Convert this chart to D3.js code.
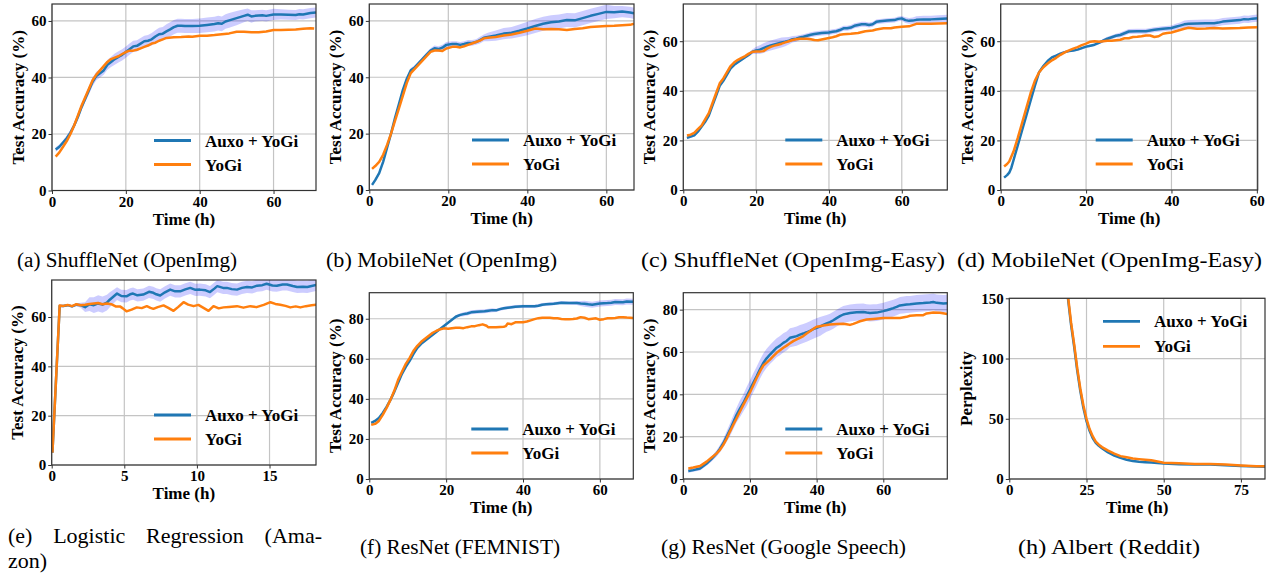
<!DOCTYPE html>
<html>
<head>
<meta charset="utf-8">
<script src="https://cdn.jsdelivr.net/npm/d3@7"></script>
<style>
body { margin: 0; background: #fff; }
svg text { font-family: "Liberation Serif", "Times New Roman", serif; }
</style>
</head>
<body>
<svg id="fig" width="1275" height="577"></svg>
<script>

// ---- data: [time (h), value, band half-width] ----

const seriesNames = ['Auxo + YoGi', 'YoGi']

const shuffleImgAuxo = [[1,14.5,0.8],[2,15.5,0.8],[3,17,0.8],[4,18.5,1],[5,20.5,1],[6,23,1],[7,26,1.2],[8,29.5,1.2],[9,32.5,1.2],[10,35.5,1.5],[11,38.5,1.5],[12,40.5,1.5],[13,41.5,1.5],[14,42.5,1.5],[15,44.5,1.8],[16,45.5,1.8],[17,46.5,2],[18,47.3,2],[19,48,2],[20,49,2],[21,50,2],[22,51,2],[23,51.2,2],[24,52,2],[25,52.8,2],[26,53,2],[27,53.5,2.2],[28,54.5,2.2],[29,55.3,2.3],[30,55.5,2.4],[31,56.3,2.5],[32,57,2.5],[33,57.8,2.5],[34,58.3,2.5],[35,58.3,2.5],[36,58.2,2.5],[38,58.2,2.5],[40,58.3,2.6],[42,58.6,2.6],[44,58.9,2.6],[45,59.2,2.6],[46,59,2.6],[47,59.8,2.6],[48,60.2,2.6],[50,61,2.5],[52,61.8,2.3],[53,62.2,2.2],[54,61.6,2.2],[55,61.8,2],[57,62,2],[58,61.8,2],[60,62.3,2],[62,62.3,1.8],[64,62.2,1.8],[66,62.1,1.8],[67,62.4,1.8],[68,62.3,1.8],[70,62.8,1.8],[71.5,63,1.8]]
const shuffleImgYogi = [[1,12],[2,13.5],[3,15.5],[4,17.5],[5,20],[6,23],[7,26.5],[8,30],[9,33],[10,36],[11,39],[12,41],[13,42.5],[14,44],[15,45.5],[16,46.5],[17,47],[18,47.5],[19,48.3],[20,49],[21,49.5],[22,49.5],[23,49.8],[24,50.3],[25,50.8],[26,51.3],[27,52],[28,52.3],[29,53],[30,53.5],[31,54],[33,54.2],[35,54.3],[37,54.5],[38,54.4],[40,54.8],[42,54.8],[44,55],[46,55.3],[48,55.6],[50,56.2],[52,56.2],[54,56],[56,56],[58,56.3],[60,56.8],[62,56.8],[64,56.9],[66,57],[68,57.2],[70,57.4],[71,57.3]]

const mobileImgAuxo = [[0.7,1.8,0.5],[1.5,3.5,0.5],[2.5,6,0.5],[3.5,10,0.7],[4.5,15,0.8],[5.5,20,0.8],[6.5,25.5,0.8],[7.5,30.5,0.8],[8.5,35.5,0.8],[9.5,39.5,0.8],[10.5,42.5,0.8],[11.5,43.5,0.8],[12.5,45,0.8],[13.5,46.5,0.8],[14.5,48,0.8],[15.5,49.5,0.8],[16.5,50.3,1],[17.5,50,1],[18.5,50.5,1],[19.5,51.5,1],[21,51.8,1],[22,51.8,1],[23,51.5,1],[24,51.8,1],[25,52.2,1],[26,52.2,1],[27,52.5,1],[28,53.2,1.2],[29,54,1.2],[30,54.3,1.5],[32,54.8,1.8],[34,55.5,2],[36,55.8,2],[38,56.5,2.2],[40,57.3,2.4],[42,58.2,2.5],[44,59,2.5],[46,59.5,2.5],[48,59.8,2.5],[50,60.3,2.5],[52,60.2,2.5],[54,61,2.5],[56,61.8,2.5],[58,62.5,2.5],[60,63.2,2.5],[62,63.1,2.2],[64,63.3,2],[66,63,2],[67,62.7,2]]
const mobileImgYogi = [[0.7,7.5],[1.5,8.5],[2.5,10],[3.5,12.5],[4.5,16],[5.5,20],[6.5,24.5],[7.5,29],[8.5,33.5],[9.5,38],[10.5,41.5],[11.5,43],[12.5,44.5],[13.5,46],[14.5,47.5],[15.5,49],[16.5,49.5],[17.5,49.5],[18.5,49.3],[19.5,50.2],[21,50.8],[22,50.8],[23,50.6],[24,51],[25,51.5],[26,52],[27,52.5],[28,53],[29,53.8],[30,54],[32,54.3],[34,54.8],[36,55.2],[38,55.8],[40,56.5],[42,57.3],[44,57],[46,57.1],[48,57],[50,56.8],[52,57.1],[54,57.4],[56,57.8],[58,58],[60,58.2],[62,58.3],[64,58.5],[66,58.6],[67,59]]

const shuffleEasyAuxo = [[1,21,0.5],[2,21.5,0.5],[3,22,0.5],[4,23.5,0.5],[5,25.5,0.5],[6,27.5,0.5],[7,30,0.5],[8,34,0.5],[9,38,0.5],[10,42,0.5],[11,44,0.5],[12,46.5,0.5],[13,49,0.5],[14,50.5,0.5],[15,51.5,0.5],[16,52.5,0.5],[17,53.5,0.5],[18,54.5,0.8],[19,55.8,1],[20,56.3,1.5],[21,56.6,1.8],[22,57.2,2],[23,57.8,2],[24,58.3,2],[25,58.7,2],[26,59.1,2],[27,59.5,2],[28,59.8,1.8],[29,60.2,1.5],[30,60.8,1.3],[31,61,1.2],[32,61.5,1],[33,61.8,1],[34,62.2,1],[35,62.6,1],[36,62.9,1],[37,63.1,1],[38,63.3,1],[40,63.5,1],[41,63.8,1],[42,64,1],[43,64.5,1],[44,65.2,1],[45,65.2,1],[46,65.5,1],[47,66.2,1],[48,66.5,1],[49,66.8,1],[50,66.8,1],[51,66.5,1],[52,66.8,1],[53,67.8,1],[54,68,1],[56,68.3,1],[58,68.5,1],[59,69,1],[60,69.2,1],[61,68.5,1.2],[62,68.2,1.2],[63,68.3,1.3],[64,68.6,1.5],[66,68.8,1.5],[68,68.8,1.5],[70,69,1.5],[72.5,69.2,1.5]]
const shuffleEasyYogi = [[1,22],[2,22.3],[3,23],[4,24.5],[5,26],[6,28.5],[7,31],[8,35],[9,39],[10,43],[11,45],[12,47.5],[13,50],[14,51.5],[15,52.5],[16,53.3],[17,54],[18,55],[19,55.7],[20,55.8],[21,55.8],[22,56],[23,57],[24,57.7],[25,58.2],[26,58.6],[27,59],[28,59.5],[29,60],[30,60.5],[31,60.8],[32,61],[33,61],[34,61],[35,60.8],[36,60.5],[37,60.4],[38,60.7],[39,61],[40,61.3],[41,61.6],[42,62],[43,62.6],[44,62.8],[46,63],[48,63.3],[50,64],[52,64.3],[53,64.7],[55,65.2],[57,65.2],[58,65.5],[60,65.8],[62,66],[63,66.5],[64,67],[66,67],[68,67],[70,67.1],[72.5,67.2]]

const mobileEasyAuxo = [[0.8,5,0.3],[1.5,6,0.3],[2,7,0.3],[2.5,9,0.5],[3,12,0.5],[4,18,0.5],[5,24,0.5],[6,30,0.5],[7,36,0.5],[8,42,0.5],[9,47.5,0.5],[10,50,0.5],[11,52,0.5],[12,53.5,0.5],[13,54.2,0.5],[14,55,0.5],[15,55.6,0.5],[16,56,0.5],[17,56.2,0.5],[18,56.6,0.5],[19,57.2,0.5],[20,57.8,0.5],[21,58.2,0.5],[22,58.6,0.5],[23,59.3,0.5],[24,60.2,0.8],[25,61,0.8],[26,61.6,0.8],[27,62.2,0.8],[28,62.5,1],[29,63.2,1],[30,63.9,1],[32,64,1],[34,64,1],[35,64.3,1],[36,64.6,1],[38,65,1],[40,65.3,1],[41,65.8,1.2],[42,66.3,1.2],[43,66.8,1.5],[44,67,1.5],[46,67.1,1.5],[48,67.2,1.5],[50,67.2,1.5],[51,67.5,1.5],[52,67.9,1.5],[54,68.2,1.5],[56,68.5,1.5],[57,68.9,1.5],[58,68.8,1.5],[59,69.1,1.5],[60.2,69.3,1.5]]
const mobileEasyYogi = [[0.8,9.5],[1.5,10.5],[2,11.5],[3,15.5],[4,21],[5,27],[6,33],[7,39],[8,44],[9,47.5],[10,49.5],[11,51],[12,52.3],[13,53.3],[14,54.5],[15,55.5],[16,56.3],[17,57],[18,57.6],[19,58.4],[20,59],[21,59.8],[22,60],[23,59.8],[24,60],[25,60.2],[26,60.2],[27,60.4],[28,60.6],[29,61.2],[30,61.2],[31,61.7],[32,61.8],[33,62],[34,62.3],[35,62.3],[36,61.7],[37,62],[38,63],[39,63.3],[40,63.5],[41,64],[42,64.5],[43,65],[44,65.4],[45,65.2],[46,65],[48,65.1],[50,65.3],[52,65.1],[54,65.2],[56,65.3],[58,65.5],[60.2,65.6]]

const amazonAuxo = [[0.05,5,0.3],[0.55,64.5,0.5],[0.8,64.5,0.5],[1.1,64.8,0.5],[1.4,64.3,0.5],[1.7,65,0.6],[2.0,64.8,1],[2.3,64,2],[2.6,65.2,2.8],[2.9,64.8,3.2],[3.2,65.5,3.3],[3.5,65,3.3],[3.8,65.8,3.2],[4.0,67,3],[4.2,68,2.8],[4.5,69.5,2.6],[4.8,68.5,2.5],[5.15,68.4,2.5],[5.4,69.2,2.5],[5.6,69.5,2.5],[5.9,68.8,2.5],[6.3,69.1,2.5],[6.7,70.2,2.5],[7.0,69.8,2.5],[7.2,69.2,2.5],[7.47,68.7,2.5],[7.8,70,2.5],[8.16,71.1,2.5],[8.5,70.4,2.5],[8.85,70.4,2.5],[9.2,71.2,2.5],[9.54,71.8,2.5],[9.9,71,2.5],[10.2,71.1,2.5],[10.6,70.8,2.5],[10.9,70.1,2.5],[11.2,71.5,2.5],[11.4,72.5,2.5],[11.8,71.8,2.5],[12.06,71.8,2.5],[12.4,71.3,2.5],[12.76,71.1,2.5],[13.1,71.8,2.5],[13.45,72.2,2.5],[13.8,72,2.5],[14.14,72.7,2.5],[14.5,72.9,2.5],[14.8,73.5,2.5],[15.2,72.8,2.5],[15.5,72.7,2.5],[15.9,73.2,2.5],[16.2,73.2,2.5],[16.6,72.6,2.5],[16.9,72.2,2.5],[17.3,72.3,2.5],[17.6,72.2,2.5],[17.9,72.6,2.5],[18.27,73.1,2.5]]
const amazonYogi = [[0.05,5],[0.55,64.7],[0.8,64.5],[1.1,64.9],[1.4,64.4],[1.7,65.2],[2.0,64.8],[2.3,65],[2.6,65.3],[2.9,65.5],[3.2,65.7],[3.5,65.2],[3.8,65.5],[4.1,65.2],[4.4,64.3],[4.7,64.3],[4.9,63.5],[5.15,62.3],[5.5,63],[5.86,63.9],[6.2,63.6],[6.55,64.4],[6.8,63.7],[7.0,63.3],[7.3,64],[7.7,64.7],[8.0,63.8],[8.39,62.5],[8.7,64],[9.08,66],[9.4,65],[9.77,64.4],[10.1,64.9],[10.57,63.3],[10.8,62.5],[11.14,64.4],[11.5,63.5],[11.83,63.9],[12.2,64.1],[12.76,64.4],[13.2,63.8],[13.68,64.4],[14.1,64],[14.6,64.9],[15.06,66],[15.4,65.3],[15.74,65],[16.1,64.5],[16.43,63.9],[16.8,64.3],[17.12,63.9],[17.5,64.4],[17.9,64.8],[18.27,65]]

const femnistAuxo = [[0.5,28,0.5],[1.5,29,0.5],[2.5,30.5,0.5],[3.5,33,0.5],[4.5,36,0.5],[5.5,39.5,0.5],[6.5,43.5,0.5],[7.5,48,0.5],[8.5,52.5,0.5],[9.5,56,0.5],[10.5,59,0.5],[11.5,62.5,0.5],[12.5,65.5,0.5],[13.5,67.5,0.5],[14.5,69,0.5],[15.5,70.5,0.5],[16.5,72,0.5],[17.5,73.5,0.5],[18.5,75,0.5],[19.5,76.5,0.5],[20.5,78,0.5],[21.5,79.5,0.5],[22.5,81,0.8],[23.5,81.8,0.8],[24.5,82.3,1],[25.5,82.6,1],[26.5,83.2,1],[28,83.5,1],[30,83.7,1],[31,84,1],[32,84.3,1],[33,84.2,0.8],[34,84.8,0.8],[35,85.2,0.8],[36,85.5,0.8],[38,86,0.8],[40,86.2,0.8],[42,86.2,0.8],[43,86.2,0.8],[44,86.5,0.8],[45,87,0.8],[46,87.2,0.8],[48,87.5,0.8],[50,88,0.8],[52,87.8,0.8],[54,87.8,1],[55,87.6,1.2],[56,87.5,1.5],[57,87.2,1.5],[58,87,1.5],[60,87.6,1.5],[62,87.8,1.5],[63,88,1.5],[64,88.4,1.5],[66,88.2,1.5],[67,88.6,1.5],[68.7,88.5,1.5]]
const femnistYogi = [[0.5,27],[1.5,27.5],[2.5,29],[3.5,32],[4.5,35.5],[5.5,39.5],[6.5,44],[7.5,49.5],[8.5,53.5],[9.5,57.5],[10.5,60.5],[11.5,64],[12.5,66.5],[13.5,68.5],[14.5,70],[15.5,71.5],[16.5,73],[17.5,74],[18.5,74.8],[19.5,75.2],[20.5,75],[21.5,75.3],[22.5,75.5],[23.5,75.5],[24.5,75.3],[25.5,75.8],[26.5,76.2],[27.5,76.3],[28.5,76.8],[29.5,77.2],[30.5,76.5],[31,75.7],[32,75.8],[33,75.7],[34,75.9],[35,76],[35.5,76.3],[36,77.6],[37,77.3],[38,78.2],[39,78.2],[40,78.3],[41,78.6],[42,79.2],[43,79.8],[44,80.3],[45,80.5],[46,80.5],[47,80.5],[48,80.3],[49,80.2],[50,79.9],[51,79.8],[52,79.8],[53,79.9],[54,80.1],[55,80.8],[56,80.5],[57,79.8],[58,80],[59,80.2],[60,79.5],[61,79.8],[62,80.2],[63,80.3],[64,80.4],[65,80.7],[66,80.8],[67,80.6],[68.7,80.4]]

const speechAuxo = [[1.5,3.8,0.8],[3,4.2,0.8],[5,5,1],[7,7.3,1],[8.5,9.5,1.2],[10,12.1,1.5],[11,14.3,1.8],[12,16.9,2],[13,20,2.5],[14,23.2,3],[15,26.8,3.3],[16,30.3,3.5],[17,33.2,4],[18,35.9,4],[19,39,4.5],[20,42.2,4.5],[21,45.4,4.5],[22,48.5,4.5],[23,51.8,4.5],[24,54.8,4.5],[25,57,4.5],[26,58.8,4.5],[27,60.4,4.5],[28,62,4.5],[29,63,4.5],[30,64.3,4.5],[31,65.2,4.5],[32,66.7,4.5],[33,67.1,4.5],[34,67.5,4.5],[35,68.2,4.5],[36,68.7,4.5],[37,69.3,4.5],[38,70,4.5],[39,70.8,4.5],[40,71.4,4.5],[41,72,4.5],[42,72.8,4.2],[43,73.5,4],[44,74.1,4],[45,75,4],[46,76,4],[47,76.9,4],[48,77.7,4],[49,78.1,4],[50,78.4,4],[52,78.8,4],[54,78.9,4],[55,78.6,4],[56,78.4,4],[57,78.5,4],[58,78.6,4],[60,79.3,4],[61,79.7,4],[62,80.2,4],[63,80.7,4],[64,81.3,4],[65,82,4],[66,82.2,4],[67,82.4,4],[68,82.5,4],[70,82.9,4],[72,83.1,4],[74,83.4,4],[75,83.6,4],[76,83.2,4],[78,82.9,4],[79.2,83,4]]
const speechYogi = [[1.5,5],[3,5.4],[5,6.1],[7,8.2],[8.5,10.2],[10,12.1],[11,13.8],[12,16.1],[13,19],[14,22.4],[15,25.6],[16,28.7],[17,31.9],[18,35],[19,38],[20,40.9],[21,44.3],[22,47.7],[23,50.8],[24,53.6],[25,55],[26,56.4],[27,58],[28,59.6],[29,60.8],[30,62],[31,63],[32,64.1],[33,65.1],[34,65.9],[35,66.7],[36,67.5],[37,68.7],[38,69.8],[39,70.9],[40,71.9],[41,72.2],[42,72.5],[44,73],[46,73.2],[48,73.3],[49,73.1],[50,72.8],[51,73.3],[52,73.9],[53,74.5],[55,75.3],[57,75.6],[60,76.1],[62,76],[65,76.1],[67,76.6],[68,77.1],[70,77.3],[72,77.4],[73,78.2],[75,78.6],[77,78.5],[79.2,77.9]]

const redditAuxo = [[18.3,170],[19,150],[20,128],[21,110],[22,90],[23,73],[24,59],[25,48],[26,40],[27,34],[28,30],[29,27.5],[30,25.5],[32,22],[34,19.5],[36,17.5],[38,16],[40,15],[42,14.3],[44,14],[46,13.7],[48,13.3],[50,12.8],[55,12.3],[60,12],[65,12],[70,11.5],[75,10.8],[80,10.3],[82.8,10.2]]
const redditYogi = [[18.3,172],[19,152],[20,130],[21,112],[22,92],[23,75],[24,61],[25,50],[26,41.5],[27,35.5],[28,31],[29,28.5],[30,26.5],[32,23.5],[34,21],[36,19],[38,18],[40,17],[42,16.5],[44,16],[46,15.5],[48,14.5],[50,13.5],[55,13],[60,12.5],[65,12.5],[70,12],[75,11.2],[80,10.5],[82.8,10.5]]

const xTicksHours = [0, 20, 40, 60]
const xTicksAmazon = [0, 5, 10, 15]
const xTicksReddit = [0, 25, 50, 75]
const yTicksAcc60 = [0, 20, 40, 60]
const yTicksAcc80 = [0, 20, 40, 60, 80]
const yTicksPerplexity = [0, 50, 100, 150]

const captions = ['(a) ShuffleNet (OpenImg)', '(b) MobileNet (OpenImg)', '(c) ShuffleNet (OpenImg-Easy)', '(d) MobileNet (OpenImg-Easy)',
    '(e) Logistic Regression (Ama- zon)', '(f) ResNet (FEMNIST)', '(g) ResNet (Google Speech)', '(h) Albert (Reddit)']

// ---- layout ----

var colors = ['#1f77b4', '#ff7f0e']

var panels = [
    { auxo: shuffleImgAuxo, yogi: shuffleImgYogi, box: [52, 4, 316, 190.5], xd: [0, 71.5], yd: [0, 66], xt: xTicksHours, yt: yTicksAcc60, ylab: 'Test Accuracy (%)', yoff: 34, cap: [17, 267, 220] },
    { auxo: mobileImgAuxo, yogi: mobileImgYogi, box: [369.3, 4, 634, 190], xd: [0, 67], yd: [0, 66], xt: xTicksHours, yt: yTicksAcc60, ylab: 'Test Accuracy (%)', yoff: 34, cap: [326, 267, 231] },
    { auxo: shuffleEasyAuxo, yogi: shuffleEasyYogi, box: [683.3, 4, 947.3, 190], xd: [0, 72.5], yd: [0, 75], xt: xTicksHours, yt: yTicksAcc60, ylab: 'Test Accuracy (%)', yoff: 34, cap: [641, 267, 304] },
    { auxo: mobileEasyAuxo, yogi: mobileEasyYogi, box: [1000.7, 4, 1257.7, 190], xd: [0, 60.2], yd: [0, 75], xt: xTicksHours, yt: yTicksAcc60, ylab: 'Test Accuracy (%)', yoff: 34, cap: [957, 267, 305] },
    { auxo: amazonAuxo, yogi: amazonYogi, box: [51.7, 280, 316, 465], xd: [0, 18.2], yd: [0, 75], xt: xTicksAmazon, yt: yTicksAcc60, ylab: 'Test Accuracy (%)', yoff: 35, cap: null },
    { auxo: femnistAuxo, yogi: femnistYogi, box: [369.3, 292.7, 633.3, 479], xd: [0, 68.7], yd: [0, 93], xt: xTicksHours, yt: yTicksAcc80, ylab: 'Test Accuracy (%)', yoff: 34, cap: [360, 554, 200] },
    { auxo: speechAuxo, yogi: speechYogi, box: [683.3, 292.7, 947.3, 479], xd: [0, 79.2], yd: [0, 88], xt: xTicksHours, yt: yTicksAcc80, ylab: 'Test Accuracy (%)', yoff: 34, cap: [661, 554, 245] },
    { auxo: redditAuxo, yogi: redditYogi, box: [1009.3, 298.3, 1265, 479], xd: [0, 82.8], yd: [0, 150], xt: xTicksReddit, yt: yTicksPerplexity, ylab: 'Perplexity', yoff: 43, cap: [1018, 554, 182], legendTop: true }
]

var svg = d3.select('#fig')

svg.append('rect').attr('width', 1275).attr('height', 577).attr('fill', '#fff')

panels.forEach(function(p, i) {

    var l = p.box[0], t = p.box[1], r = p.box[2], b = p.box[3]

    var x = d3.scaleLinear().domain(p.xd).range([l, r])
    var y = d3.scaleLinear().domain(p.yd).range([b, t])

    var g = svg.append('g')

    svg.append('clipPath').attr('id', 'clip' + i)
        .append('rect').attr('x', l).attr('y', t).attr('width', r - l).attr('height', b - t)

    // grid
    g.append('g').selectAll('line').data(p.xt).join('line')
        .attr('x1', d => x(d)).attr('x2', d => x(d)).attr('y1', t).attr('y2', b)
        .attr('stroke', '#c4c4c4').attr('stroke-width', 1.2)
    g.append('g').selectAll('line').data(p.yt).join('line')
        .attr('y1', d => y(d)).attr('y2', d => y(d)).attr('x1', l).attr('x2', r)
        .attr('stroke', '#c4c4c4').attr('stroke-width', 1.2)

    var plot = g.append('g').attr('clip-path', 'url(#clip' + i + ')')

    // spread band around Auxo + YoGi
    if (p.auxo[0].length > 2) {
        var band = d3.area()
            .x(d => x(d[0]))
            .y0(d => y(d[1] - d[2]))
            .y1(d => y(d[1] + d[2]))
        plot.append('path').datum(p.auxo)
            .attr('d', band).attr('fill', '#0000ff').attr('fill-opacity', 0.2)
    }

    var line = d3.line().x(d => x(d[0])).y(d => y(d[1]))

    ;[p.auxo, p.yogi].forEach(function(s, k) {
        plot.append('path').datum(s)
            .attr('d', line).attr('fill', 'none')
            .attr('stroke', colors[k]).attr('stroke-width', 2.5)
            .attr('stroke-linejoin', 'round')
    })

    // frame
    g.append('rect').attr('x', l).attr('y', t).attr('width', r - l).attr('height', b - t)
        .attr('fill', 'none').attr('stroke', '#333').attr('stroke-width', 1.2)

    // axes
    var xa = g.append('g').attr('transform', 'translate(0,' + b + ')')
        .call(d3.axisBottom(x).tickValues(p.xt).tickSize(3.5).tickPadding(2).tickFormat(d3.format('d')))
    var ya = g.append('g').attr('transform', 'translate(' + l + ',0)')
        .call(d3.axisLeft(y).tickValues(p.yt).tickSize(3.5).tickPadding(2).tickFormat(d3.format('d')))

    ;[xa, ya].forEach(function(a) {
        a.select('.domain').remove()
        a.selectAll('line').attr('stroke', '#333')
        a.selectAll('text')
            .attr('fill', '#000')
            .style('font-family', '"Liberation Serif", serif')
            .style('font-size', '15px')
            .style('font-weight', 'bold')
    })

    // axis labels
    g.append('text')
        .attr('x', (l + r) / 2).attr('y', b + 34)
        .attr('text-anchor', 'middle')
        .style('font-size', '17px').style('font-weight', 'bold')
        .text('Time (h)')

    g.append('text')
        .attr('transform', 'translate(' + (l - p.yoff) + ',' + ((t + b) / 2) + ') rotate(-90)')
        .attr('text-anchor', 'middle').attr('dy', '0.35em')
        .style('font-size', '17px').style('font-weight', 'bold')
        .text(p.ylab)

    // legend
    var rows = p.legendTop ? [t + 23, t + 48] : [b - 50, b - 26]
    seriesNames.forEach(function(name, k) {
        g.append('line')
            .attr('x1', r - 162).attr('x2', r - 125)
            .attr('y1', rows[k]).attr('y2', rows[k])
            .attr('stroke', colors[k]).attr('stroke-width', 2.8)
        g.append('text')
            .attr('x', r - 111).attr('y', rows[k] + 6)
            .style('font-size', '17px').style('font-weight', 'bold')
            .text(name)
    })

    // caption
    if (p.cap) {
        svg.append('text')
            .attr('x', p.cap[0]).attr('y', p.cap[1])
            .attr('textLength', p.cap[2]).attr('lengthAdjust', 'spacingAndGlyphs')
            .style('font-size', '20px')
            .text(captions[i])
    }

})

// caption (e) is justified between x=8 and x=322, wrapped onto two lines
var capE = captions[4].split(' ')
var words = capE.slice(0, 4).map(function(w) {
    return svg.append('text').attr('y', 543).style('font-size', '22px').text(w)
})
var widths = words.map(w => w.node().getComputedTextLength())
var gap = (322 - 8 - d3.sum(widths)) / (words.length - 1)
var cx = 8
words.forEach(function(w, k) {
    w.attr('x', cx)
    cx += widths[k] + gap
})
svg.append('text').attr('x', 8).attr('y', 568)
    .style('font-size', '22px').text(capE[4])

</script>
</body>
</html>
